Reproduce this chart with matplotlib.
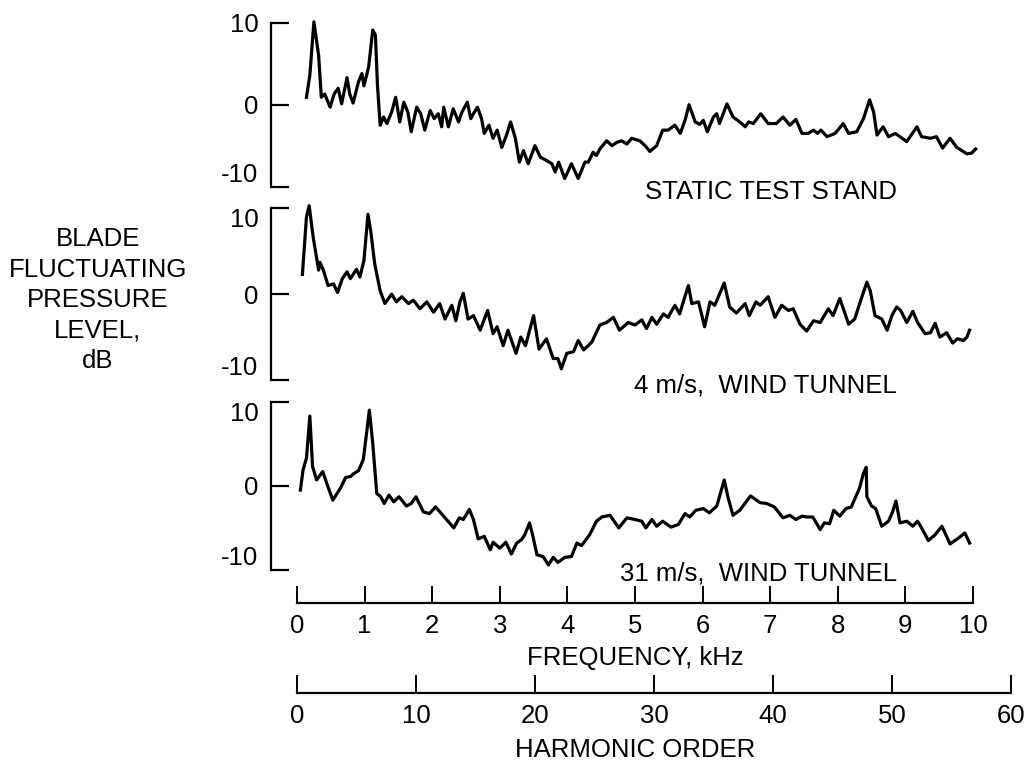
import matplotlib
matplotlib.use("Agg")
import matplotlib.pyplot as plt
import numpy as np

plt.rcParams['font.family'] = ['Liberation Sans', 'DejaVu Sans']

# ---------------- data ----------------
freq_static = [0.14, 0.19, 0.25, 0.32, 0.36, 0.41, 0.49, 0.55, 0.61, 0.66, 0.74, 0.78, 0.83, 0.91, 0.96, 0.99,
               1.06, 1.12, 1.16, 1.19, 1.23, 1.28, 1.33, 1.40, 1.46, 1.52, 1.58, 1.64, 1.69, 1.77, 1.83, 1.89,
               1.97, 2.03, 2.09, 2.14, 2.17, 2.24, 2.31, 2.39, 2.44, 2.52, 2.57, 2.61, 2.67, 2.73, 2.77, 2.84,
               2.90, 2.96, 3.03, 3.10, 3.16, 3.23, 3.29, 3.35, 3.42, 3.52, 3.60, 3.69, 3.77, 3.82, 3.87, 3.96,
               4.06, 4.16, 4.26, 4.31, 4.38, 4.43, 4.48, 4.58, 4.66, 4.73, 4.80, 4.88, 4.95, 5.07, 5.15, 5.22,
               5.32, 5.41, 5.49, 5.59, 5.67, 5.74, 5.80, 5.89, 5.96, 6.01, 6.07, 6.16, 6.21, 6.25, 6.36, 6.45,
               6.55, 6.63, 6.68, 6.75, 6.86, 6.97, 7.09, 7.19, 7.29, 7.38, 7.47, 7.56, 7.64, 7.70, 7.75, 7.84,
               7.96, 8.08, 8.16, 8.28, 8.38, 8.47, 8.53, 8.58, 8.67, 8.75, 8.85, 9.02, 9.17, 9.24, 9.37, 9.46,
               9.55, 9.66, 9.76, 9.91, 9.98, 10.04]
level_static = [0.9, 3.6, 10.1, 6.0, 0.9, 1.3, -0.3, 1.3, 2.0, 0.1, 3.3, 1.3, 0.2, 2.8, 3.8, 2.3,
                4.6, 9.1, 8.5, 2.4, -2.5, -1.5, -2.3, -0.9, 0.9, -2.1, 0.3, -0.9, -3.3, -0.3, -1.1, -3.1,
                -0.7, -1.7, -1.1, -2.7, -0.3, -2.7, -0.5, -2.1, -0.9, 0.3, -1.7, -1.1, -0.3, -1.7, -3.5, -2.5,
                -4.1, -3.1, -5.2, -3.7, -2.1, -4.1, -7.0, -5.6, -7.2, -5.0, -6.4, -6.8, -7.2, -8.2, -7.0, -9.0,
                -7.2, -9.0, -7.0, -7.0, -5.8, -6.2, -5.4, -4.4, -5.0, -4.6, -4.4, -4.8, -4.1, -4.4, -5.0, -5.7,
                -5.0, -3.1, -3.1, -2.5, -3.5, -1.9, 0.0, -2.1, -2.4, -1.9, -3.3, -1.5, -1.1, -2.3, 0.1, -1.5,
                -2.1, -2.7, -2.1, -2.3, -1.1, -2.3, -2.3, -1.5, -2.5, -1.8, -3.5, -3.5, -3.1, -3.5, -3.1, -3.9,
                -3.5, -2.3, -3.5, -3.3, -1.7, 0.6, -0.9, -3.7, -2.7, -3.9, -3.5, -4.5, -2.7, -3.9, -4.1, -3.9,
                -5.3, -4.1, -5.2, -6.0, -5.9, -5.4]

freq_4ms = [0.08, 0.14, 0.18, 0.24, 0.32, 0.34, 0.39, 0.46, 0.54, 0.60, 0.67, 0.74, 0.79, 0.88, 0.93, 0.99,
            1.05, 1.09, 1.15, 1.23, 1.30, 1.40, 1.47, 1.55, 1.65, 1.72, 1.82, 1.92, 2.02, 2.11, 2.19, 2.29,
            2.35, 2.41, 2.46, 2.53, 2.61, 2.71, 2.82, 2.90, 2.96, 3.05, 3.12, 3.24, 3.31, 3.38, 3.50, 3.58,
            3.69, 3.79, 3.86, 3.91, 3.99, 4.09, 4.16, 4.24, 4.36, 4.48, 4.58, 4.68, 4.77, 4.90, 5.00, 5.10,
            5.17, 5.25, 5.32, 5.42, 5.49, 5.59, 5.66, 5.73, 5.79, 5.84, 5.94, 6.03, 6.11, 6.18, 6.25, 6.32,
            6.40, 6.50, 6.63, 6.69, 6.79, 6.85, 6.97, 7.07, 7.17, 7.27, 7.34, 7.44, 7.54, 7.64, 7.74, 7.86,
            7.93, 8.03, 8.16, 8.25, 8.34, 8.43, 8.48, 8.55, 8.65, 8.73, 8.80, 8.87, 8.93, 9.02, 9.11, 9.18,
            9.29, 9.37, 9.44, 9.51, 9.61, 9.70, 9.77, 9.86, 9.91, 9.95]
level_4ms = [2.3, 9.0, 10.3, 6.6, 2.8, 3.7, 2.8, 1.0, 1.2, 0.2, 1.8, 2.6, 1.8, 2.9, 2.0, 3.9,
             9.3, 7.4, 3.5, 0.4, -1.1, 0.0, -0.9, -0.3, -1.1, -0.7, -1.7, -0.9, -2.1, -1.1, -2.9, -1.3,
             -3.1, -0.9, 0.1, -2.9, -2.5, -4.2, -1.9, -4.6, -3.8, -6.0, -4.2, -6.9, -5.0, -6.0, -2.5, -6.4,
             -5.2, -7.5, -7.5, -8.7, -6.9, -6.7, -5.4, -6.5, -5.6, -3.6, -3.3, -2.7, -4.2, -3.3, -3.6, -3.0,
             -4.0, -2.7, -3.5, -2.3, -2.7, -1.3, -2.3, -0.5, 1.0, -1.1, -0.9, -3.8, -0.9, -1.3, 0.0, 1.3,
             -1.5, -2.2, -1.1, -2.5, -0.9, -1.3, -0.3, -2.7, -1.3, -1.9, -1.7, -3.5, -4.3, -3.1, -3.3, -1.7,
             -2.5, -0.5, -3.5, -2.9, -0.7, 1.4, 0.4, -2.5, -2.9, -4.2, -2.5, -1.5, -1.9, -3.3, -2.0, -3.3,
             -4.6, -4.5, -3.4, -5.0, -4.5, -5.7, -5.2, -5.4, -5.0, -4.2]

freq_31ms = [0.05, 0.09, 0.14, 0.19, 0.23, 0.29, 0.38, 0.44, 0.53, 0.64, 0.72, 0.79, 0.83, 0.91, 0.98, 1.03,
             1.07, 1.12, 1.18, 1.24, 1.29, 1.36, 1.43, 1.51, 1.62, 1.69, 1.76, 1.87, 1.96, 2.05, 2.19, 2.32,
             2.40, 2.46, 2.55, 2.61, 2.68, 2.77, 2.86, 2.90, 3.00, 3.09, 3.17, 3.25, 3.32, 3.37, 3.44, 3.49,
             3.55, 3.64, 3.72, 3.79, 3.86, 3.96, 4.06, 4.14, 4.21, 4.33, 4.43, 4.51, 4.63, 4.76, 4.88, 5.00,
             5.10, 5.16, 5.25, 5.32, 5.41, 5.53, 5.64, 5.74, 5.81, 5.90, 6.01, 6.10, 6.21, 6.32, 6.38, 6.45,
             6.55, 6.71, 6.85, 6.95, 7.06, 7.19, 7.29, 7.38, 7.47, 7.54, 7.63, 7.74, 7.80, 7.88, 7.94, 8.03,
             8.12, 8.20, 8.32, 8.38, 8.42, 8.43, 8.50, 8.56, 8.65, 8.75, 8.81, 8.86, 8.92, 9.02, 9.11, 9.18,
             9.24, 9.34, 9.44, 9.54, 9.66, 9.77, 9.88, 9.95]
level_31ms = [-0.5, 1.9, 3.3, 8.3, 2.3, 0.7, 1.7, 0.3, -1.7, -0.3, 1.0, 1.1, 1.4, 1.8, 3.1, 6.3,
              9.0, 5.1, -0.9, -1.3, -2.1, -1.1, -1.9, -1.3, -2.4, -2.1, -1.3, -3.1, -3.3, -2.5, -3.8, -5.0,
              -3.8, -4.0, -2.8, -4.0, -6.3, -6.0, -7.6, -6.7, -7.4, -6.7, -8.1, -6.8, -6.4, -5.8, -4.4, -6.0,
              -8.2, -8.4, -9.4, -8.5, -9.1, -8.5, -8.4, -6.8, -7.1, -5.8, -4.2, -3.7, -3.5, -5.0, -3.8, -4.0,
              -4.2, -5.0, -4.0, -4.8, -4.2, -4.9, -4.6, -3.3, -3.7, -2.9, -2.7, -3.2, -2.4, 0.7, -1.5, -3.5,
              -2.9, -1.2, -2.0, -2.1, -2.5, -3.8, -3.5, -4.0, -3.6, -3.7, -3.7, -5.2, -4.4, -4.5, -2.9, -3.6,
              -2.7, -2.5, -0.3, 1.5, 2.2, -1.3, -2.4, -2.7, -4.8, -4.2, -3.1, -1.8, -4.4, -4.2, -4.8, -4.2,
              -5.0, -6.5, -5.8, -4.8, -6.9, -6.3, -5.6, -6.8]

panel_labels = ["STATIC TEST STAND", "4 m/s,  WIND TUNNEL", "31 m/s,  WIND TUNNEL"]
y_ticks = [-10, 0, 10]
y_tick_labels = ["-10", "0", "10"]
freq_ticks = list(range(0, 11))
harm_ticks = [0, 10, 20, 30, 40, 50, 60]
ylabel_text = "BLADE\nFLUCTUATING\nPRESSURE\nLEVEL,\ndB"

# ---------------- layout ----------------
W, H = 1026, 765
fig = plt.figure(figsize=(W / 100, H / 100), dpi=100)

FS = 18.5
px_per_khz = (973 - 297) / 10.0
x_left_px, x_right_px = 271, 1000
xlim_panels = ((x_left_px - 297) / px_per_khz, (x_right_px - 297) / px_per_khz)

panel_px = [(22.7, 186.7), (208.3, 380.0), (401.7, 570.0)]
series = [(freq_static, level_static), (freq_4ms, level_4ms), (freq_31ms, level_31ms)]
label_y_px = [192, 385, 573]

for i, ((top, bot), (fx, lv), lab, ly) in enumerate(zip(panel_px, series, panel_labels, label_y_px)):
    ax = fig.add_axes([x_left_px / W, 1 - bot / H, (x_right_px - x_left_px) / W, (bot - top) / H])
    ax.plot(fx, lv, color='black', lw=2.3, clip_on=False, solid_joinstyle='round')
    ax.set_xlim(*xlim_panels)
    ax.set_ylim(-10, 10)
    for s in ['top', 'right', 'bottom']:
        ax.spines[s].set_visible(False)
    ax.spines['left'].set_linewidth(1.6)
    ax.set_xticks([])
    ax.set_yticks(y_ticks)
    ax.set_yticklabels(y_tick_labels)
    ax.tick_params(axis='y', direction='in', length=13, width=1.6, pad=9, labelsize=FS)
    lbls = ax.get_yticklabels()
    lbls[0].set_va('bottom')          # "-10" sits above its tick
    if i > 0:
        lbls[2].set_va('top')         # "10" sits below its tick in lower panels
    ax.patch.set_alpha(0)
    fig.text(897 / W, 1 - ly / H, lab, ha='right', va='center', fontsize=FS)

# frequency axis
axf = fig.add_axes([297 / W, 1 - 603 / H, (973 - 297) / W, 0.03])
axf.set_xlim(0, 10)
for s in ['top', 'right', 'left']:
    axf.spines[s].set_visible(False)
axf.spines['bottom'].set_linewidth(1.6)
axf.set_yticks([])
axf.set_xticks(freq_ticks)
axf.set_xticklabels([str(t) for t in freq_ticks])
axf.tick_params(axis='x', direction='in', length=12, width=1.4, pad=8, labelsize=FS)
axf.patch.set_alpha(0)
fig.text(((297 + 973) / 2) / W, 1 - 658 / H, "FREQUENCY, kHz", ha='center', va='center', fontsize=FS)

# harmonic axis
axh = fig.add_axes([297 / W, 1 - 693 / H, (1011 - 297) / W, 0.03])
axh.set_xlim(0, 60)
for s in ['top', 'right', 'left']:
    axh.spines[s].set_visible(False)
axh.spines['bottom'].set_linewidth(1.6)
axh.set_yticks([])
axh.set_xticks(harm_ticks)
axh.set_xticklabels([str(t) for t in harm_ticks])
axh.tick_params(axis='x', direction='in', length=13, width=1.4, pad=8, labelsize=FS)
axh.patch.set_alpha(0)
fig.text(((297 + 973) / 2) / W, 1 - 750 / H, "HARMONIC ORDER", ha='center', va='center', fontsize=FS)

# y label
fig.text(98 / W, 1 - 300 / H, ylabel_text, ha='center', va='center', fontsize=FS,
         linespacing=1.33, multialignment='center')

fig.savefig("out.png", dpi=100)
